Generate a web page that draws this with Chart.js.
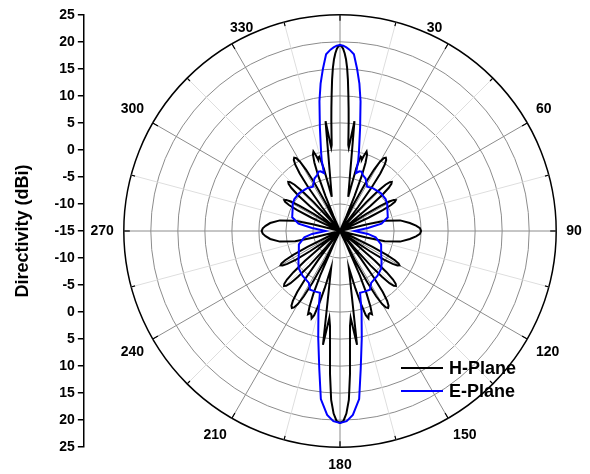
<!DOCTYPE html>
<html lang="en">
<head>
<meta charset="UTF-8">
<title>Directivity pattern</title>
<script src="https://cdn.jsdelivr.net/npm/chart.js"></script>
<style>
    html, body { margin: 0; padding: 0; background: #fff; overflow: hidden; }
    body { width: 590px; height: 474px; position: relative; font-family: "Liberation Sans", Arial, sans-serif; }
    #axisBox { position: absolute; left: 0; top: 0; width: 200px; height: 474px; }
    #polarBox { position: absolute; left: 45px; top: 2px; width: 590px; height: 486px; }
    .legend-row { position: absolute; left: 401px; height: 24px; display: flex; align-items: center;
                  font-weight: bold; font-size: 18px; color: #000; white-space: nowrap; }
    .legend-row .swatch { width: 42px; border-top: 2px solid; margin-right: 6px; }
</style>
</head>
<body>
<div id="axisBox"><canvas id="axis"></canvas></div>
<div id="polarBox"><canvas id="polar"></canvas></div>
<div class="legend-row" style="top:356px"><span class="swatch" style="border-color:#000"></span>H-Plane</div>
<div class="legend-row" style="top:379px"><span class="swatch" style="border-color:#0000ff"></span>E-Plane</div>

<script>
    // angle labels round the rim (0 is left out, as in the figure)
    const angleLabels = ['30', '60', '90', '120', '150', '180', '210', '240', '270', '300', '330'];
    // radial scale: -15 dBi at the centre, 25 dBi at the rim
    const radialTicks = [-15, -10, -5, 0, 5, 10, 15, 20, 25];

    // [angle in degrees, directivity in dBi]
    const hPlane = [
        [0, 19.4], [0.5, 19.2], [1, 18.7], [1.5, 17.9], [2, 16.8], [2.5, 15.2], [3, 13], [3.5, 10.3],
        [4, 7.8], [4.5, 5.4], [5, 3], [5.5, 1], [6, 0.5], [7.5, 5.5], [13.5, -8.5],
        [14.5, -3], [15.5, -0.7], [16.5, -0.8], [17, -1.2], [17.5, -0.5], [18.5, 0.5], [19.5, 0],
        [20.5, -1.5], [21.5, -4], [22.5, -8], [23.5, -12], [24.5, -15],
        [26, -15], [27, -9.5], [28, -5], [29, -2], [30, -0.2], [31, 0.7], [32, 1], [33, 0.7],
        [34, -0.2], [35, -2], [36, -5], [37, -9.5], [38, -15],
        [40.5, -15], [41.5, -12.3], [42.5, -7.8], [43.5, -4.8], [44.5, -3], [45.5, -2.1], [46.5, -1.8],
        [47.5, -2.1], [48.5, -3], [49.5, -4.8], [50.5, -7.8], [51.5, -12.3], [52.5, -15],
        [55, -15], [56, -13.7], [57, -9.2], [58, -6.2], [59, -4.4], [60, -3.5], [61, -3.2],
        [62, -3.5], [63, -4.4], [64, -6.2], [65, -9.2], [66, -13.7], [67, -15],
        [73, -15], [76, -10], [77, -6.5], [80, -3.7], [83.5, -2], [86, -0.9], [88, -0.2], [90, 0],
        [92, -0.2], [94, -0.9], [96.5, -2], [100, -3.7], [103, -6.5], [104, -10], [107, -15],
        [114, -15], [115, -12.8], [116, -8.3], [117, -5.3], [118, -3.5], [119, -2.6], [120, -2.3],
        [121, -2.6], [122, -3.5], [123, -5.3], [124, -8.3], [125, -12.8], [126, -15],
        [128.5, -15], [129.5, -11], [130.5, -6.5], [131.5, -3.5], [132.5, -1.7], [133.5, -0.8], [134.5, -0.5],
        [135.5, -0.8], [136.5, -1.7], [137.5, -3.5], [138.5, -6.5], [139.5, -11], [140.5, -15],
        [142, -15], [143, -8.7], [144, -4.2], [145, -1.2], [146, 0.6], [147, 1.5], [148, 1.8],
        [149, 1.5], [150, 0.6], [151, -1.2], [152, -4.2], [153, -8.7], [154, -15],
        [155, -12], [156, -6], [157, -2.5], [158, 0], [159, 1.5], [160, 1.2], [161, 1.3], [162, 2],
        [163, 1.3], [164, -1], [165, -4], [166.5, -8],
        [171.5, 6.3], [173, 1.2], [174, 2.7], [175, 6.2], [176, 11.5], [177, 16.3], [178, 18.8], [179, 20.2], [180, 20.5],
        [181, 20.2], [182, 18.8], [183, 16.3], [184, 11.5], [185, 6.2], [186, 2.7], [187, 1.2], [188.5, 6.3],
        [193.5, -8], [195, -4], [196, -1], [197, 1.3], [198, 2], [199, 1.3], [200, 1.2], [201, 1.5],
        [202, 0], [203, -2.5], [204, -6], [205, -12],
        [206, -15], [207, -8.7], [208, -4.2], [209, -1.2], [210, 0.6], [211, 1.5], [212, 1.8],
        [213, 1.5], [214, 0.6], [215, -1.2], [216, -4.2], [217, -8.7], [218, -15],
        [219.5, -15], [220.5, -11], [221.5, -6.5], [222.5, -3.5], [223.5, -1.7], [224.5, -0.8], [225.5, -0.5],
        [226.5, -0.8], [227.5, -1.7], [228.5, -3.5], [229.5, -6.5], [230.5, -11], [231.5, -15],
        [234, -15], [235, -12.8], [236, -8.3], [237, -5.3], [238, -3.5], [239, -2.6], [240, -2.3],
        [241, -2.6], [242, -3.5], [243, -5.3], [244, -8.3], [245, -12.8], [246, -15],
        [253, -15], [256, -10], [257, -6.5], [260, -3.7], [263.5, -2], [266, -1.2], [268, -0.7], [270, -0.5],
        [272, -0.7], [274, -1.2], [276.5, -2], [280, -3.7], [283, -6.5], [284, -10], [287, -15],
        [293, -15], [294, -13.7], [295, -9.2], [296, -6.2], [297, -4.4], [298, -3.5], [299, -3.2],
        [300, -3.5], [301, -4.4], [302, -6.2], [303, -9.2], [304, -13.7], [305, -15],
        [307.5, -15], [308.5, -12.3], [309.5, -7.8], [310.5, -4.8], [311.5, -3], [312.5, -2.1], [313.5, -1.8],
        [314.5, -2.1], [315.5, -3], [316.5, -4.8], [317.5, -7.8], [318.5, -12.3], [319.5, -15],
        [322, -15], [323, -9.5], [324, -5], [325, -2], [326, -0.2], [327, 0.7], [328, 1], [329, 0.7],
        [330, -0.2], [331, -2], [332, -5], [333, -9.5], [334, -15],
        [335.5, -15], [336.5, -12], [337.5, -8], [338.5, -4], [339.5, -1.5], [340.5, 0], [341.5, 0.5],
        [342.5, -0.5], [343, -1.2], [343.5, -0.8], [344.5, -0.7], [345.5, -3], [346.5, -8.5],
        [352.5, 5.5], [354, 0.5], [354.5, 1], [355, 3], [355.5, 5.4], [356, 7.8], [356.5, 10.3],
        [357, 13], [357.5, 15.2], [358, 16.8], [358.5, 17.9], [359, 18.7], [359.5, 19.2]
    ];

    const ePlane = [
        [0, 19.4], [1, 19.3], [2, 19], [3, 18.6], [4.5, 17.8], [6, 15.2], [7.5, 12.5], [9, 9.3],
        [11, 4.5], [13.5, 0], [14.5, -1.5], [15.5, -3.9], [18, -3.4], [20, -3.3], [22, -3.8],
        [26, -4.2], [31.5, -5.4], [38, -5], [47, -4.7], [55, -4.7], [60, -4.9], [66, -5.4],
        [74, -5.8], [80, -7.2], [84, -9.8], [87, -11.5], [90, -12.3], [93, -11.5], [96, -9.8],
        [100, -8.3], [108, -7], [120, -6.2], [126, -5.5], [132, -4.7], [140, -4.2], [149, -3.8],
        [153, -2.8], [158, -2.9], [162, -3], [163.5, -1.5], [165, 0.4], [168.5, 5.2], [171.5, 10.9],
        [173.5, 16.3], [176, 19.1], [178, 20.2], [180, 20.5],
        [182, 20.2], [184, 19.1], [186.5, 16.3], [188.5, 10.9], [191.5, 5.2], [195, 0.4], [196.5, -1.5],
        [198, -3], [202, -2.9], [207, -2.8], [211, -3.8], [220, -4.2], [228, -4.7], [234, -5.5],
        [240, -6.2], [252, -7], [260, -8.3], [264, -9.8], [267, -11.5], [270, -12.3], [273, -11.5],
        [276, -9.8], [280, -7.2], [286, -5.8], [294, -5.4], [300, -4.9], [305, -4.7], [313, -4.7],
        [322, -5], [328.5, -5.4], [334, -4.2], [338, -3.8], [340, -3.3], [342, -3.4], [344.5, -3.9],
        [345.5, -1.5], [346.5, 0], [349, 4.5], [351, 9.3], [352.5, 12.5], [354, 15.2], [355.5, 17.8],
        [357, 18.6], [358, 19], [359, 19.3]
    ];

    const FONT = '"Liberation Sans", Arial, sans-serif';
    Chart.defaults.font.family = FONT;

    // radar needs one category per step; only the read angles carry values
    const STEP = 0.5;
    const angles = [];
    for (let i = 0; i < 360 / STEP; i++) angles.push(i * STEP);

    function toRadar(pairs) {
        const out = angles.map(() => null);
        pairs.forEach(([a, v]) => { out[Math.round(a / STEP) % angles.length] = v; });
        return out;
    }

    function angleOf(index) { return index * STEP; }

    // the figure pulls the 30 and 330 labels in toward the top
    const pulledIn = { '30': 24, '330': 336 };
    const labelAt = new Map();
    angleLabels.forEach(l => labelAt.set(pulledIn[l] !== undefined ? pulledIn[l] : Number(l), l));

    // short ticks on the inside of the rim, every 15 degrees
    const rimTicks = {
        id: 'rimTicks',
        afterDraw(chart) {
            const scale = chart.scales.r;
            const ctx = chart.ctx;
            const R = scale.drawingArea;
            ctx.save();
            ctx.strokeStyle = '#000';
            ctx.lineWidth = 1.2;
            angles.forEach((a, i) => {
                if (a % 15 !== 0) return;
                const len = a % 30 === 0 ? 6 : 4;
                const p1 = scale.getPointPosition(i, R);
                const p2 = scale.getPointPosition(i, R - len);
                ctx.beginPath();
                ctx.moveTo(p1.x, p1.y);
                ctx.lineTo(p2.x, p2.y);
                ctx.stroke();
            });
            ctx.restore();
        }
    };

    new Chart(document.getElementById('polar'), {
        type: 'radar',
        data: {
            labels: angles,
            datasets: [
                {
                    label: 'H-Plane',
                    data: toRadar(hPlane),
                    borderColor: '#000000',
                    borderWidth: 2,
                    pointRadius: 0,
                    fill: false,
                    spanGaps: true,
                    tension: 0,
                    order: 1
                },
                {
                    label: 'E-Plane',
                    data: toRadar(ePlane),
                    borderColor: '#0000ff',
                    borderWidth: 2,
                    pointRadius: 0,
                    fill: false,
                    spanGaps: true,
                    tension: 0,
                    order: 0
                }
            ]
        },
        options: {
            responsive: true,
            maintainAspectRatio: false,
            animation: false,
            events: [],
            layout: { padding: 0 },
            plugins: { legend: { display: false }, tooltip: { enabled: false } },
            scales: {
                r: {
                    min: radialTicks[0],
                    max: radialTicks[radialTicks.length - 1],
                    startAngle: 0,
                    ticks: { stepSize: 5, display: false },
                    grid: {
                        circular: true,
                        color: ctx => ctx.index === radialTicks.length - 1 ? '#000' : (ctx.index === 0 ? 'rgba(0,0,0,0)' : '#8c8c8c'),
                        lineWidth: ctx => ctx.index === radialTicks.length - 1 ? 1.5 : 1
                    },
                    angleLines: {
                        color: ctx => {
                            const a = angleOf(ctx.index);
                            if (a % 30 === 0) return '#8c8c8c';
                            if (a % 15 === 0) return '#dedede';
                            return 'rgba(0,0,0,0)';
                        },
                        lineWidth: ctx => (angleOf(ctx.index) % 15 === 0 ? 1 : 0)
                    },
                    pointLabels: {
                        callback: (value) => labelAt.get(value) || '',
                        color: '#000',
                        padding: ctx => {
                            if (!ctx.label) return 0;
                            return pulledIn[ctx.label] !== undefined ? -3 : 10;
                        },
                        font: ctx => (ctx.label
                            ? { family: FONT, size: 14, weight: 'bold', lineHeight: 1.2 }
                            : { family: FONT, size: 14, lineHeight: 0 })
                    }
                }
            }
        },
        plugins: [rimTicks]
    });

    // left axis: mirrored dBi scale, centre = -15
    new Chart(document.getElementById('axis'), {
        type: 'line',
        data: { labels: [], datasets: [] },
        options: {
            responsive: true,
            maintainAspectRatio: false,
            animation: false,
            events: [],
            layout: { padding: { top: 15, bottom: 27, left: 0, right: 0 } },
            plugins: { legend: { display: false }, tooltip: { enabled: false } },
            scales: {
                x: { display: false },
                y: {
                    min: -(radialTicks[radialTicks.length - 1] - radialTicks[0]),
                    max: radialTicks[radialTicks.length - 1] - radialTicks[0],
                    ticks: {
                        stepSize: 5,
                        padding: 3,
                        color: '#000',
                        font: { size: 14, weight: 'bold' },
                        callback: v => Math.abs(v) + radialTicks[0]
                    },
                    grid: { drawOnChartArea: false, drawTicks: true, tickLength: 6, color: '#000', lineWidth: 1.5 },
                    border: { display: true, color: '#000', width: 1.5 },
                    title: {
                        display: true,
                        text: 'Directivity (dBi)',
                        color: '#000',
                        font: { size: 18, weight: 'bold' },
                        padding: { top: 12, bottom: 18 }
                    }
                }
            }
        }
    });
</script>
</body>
</html>
